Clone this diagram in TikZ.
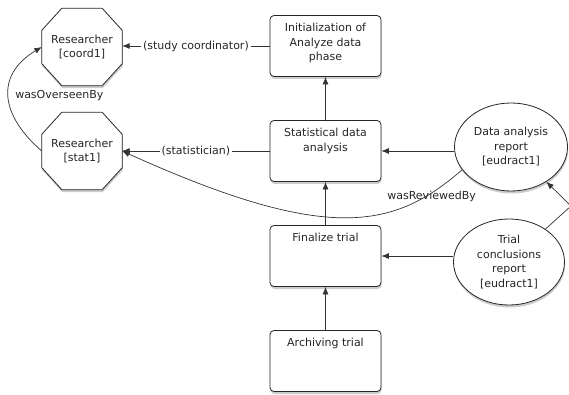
\documentclass[tikz,border=0pt]{standalone}
\usepackage{fontspec}
\setmainfont{DejaVu Sans}
\usetikzlibrary{arrows.meta,shapes.geometric,shadows,backgrounds}

\newcommand{\boxlines}[1]{\parbox[t][45pt][t]{106pt}{\centering #1}}
% octagonal outline around a rectangular node, corners cut by 20pt x 22pt
\newcommand{\octagonaround}[1]{%
  \filldraw[octo] ([xshift=20pt]#1.north west) -- ([xshift=-20pt]#1.north east)
    -- ([yshift=-22pt]#1.north east) -- ([yshift=22pt]#1.south east)
    -- ([xshift=-20pt]#1.south east) -- ([xshift=20pt]#1.south west)
    -- ([yshift=22pt]#1.south west) -- ([yshift=-22pt]#1.north west) -- cycle;}

\tikzset{
  every node/.style={font=\fontsize{11pt}{14.5pt}\selectfont, text=black!85},
  softshadow/.style={drop shadow={shadow xshift=0.6pt, shadow yshift=-2.5pt, opacity=0.4}},
  stepbox/.style={draw=black!85, line width=0.8pt, fill=white, rounded corners=4pt,
    minimum width=111pt, minimum height=61pt, inner sep=0pt, softshadow},
  agent/.style={rectangle, minimum width=80pt, minimum height=77pt, inner sep=0pt, align=center},
  octo/.style={draw=black!85, line width=0.8pt, fill=white, softshadow},
  entity/.style={ellipse, draw=black!85, line width=0.8pt, fill=white, inner sep=0pt,
    align=center, softshadow},
  conn/.style={draw=black!80, line width=0.7pt, -{Latex[length=7.5pt,width=6pt]}},
  plain/.style={draw=black!80, line width=0.7pt},
  rolelabel/.style={fill=white, inner sep=2pt}
}

\begin{document}
\begin{tikzpicture}[x=1pt,y=-1pt]
  \useasboundingbox (0,0) rectangle (569,395);
  \clip (0,0) rectangle (569,395);

  % researchers (agents)
  \node[agent] (coord1) at (82,47) {Researcher\\{[coord1]}};
  \node[agent] (stat1) at (82,151) {Researcher\\{[stat1]}};
  \begin{scope}[on background layer]
    \octagonaround{coord1}
    \octagonaround{stat1}
  \end{scope}

  % activities
  \node[stepbox] (init) at (325.5,46) {\boxlines{Initialization of\\Analyze data\\phase}};
  \node[stepbox] (stat) at (325.5,151) {\boxlines{Statistical data\\analysis}};
  \node[stepbox] (fin)  at (325.5,256) {\boxlines{Finalize trial}};
  \node[stepbox] (arch) at (325.5,361) {\boxlines{Archiving trial}};

  % reports (entities)
  \node[entity, minimum width=113pt, minimum height=88pt] (dar) at (511,147)
    {Data analysis\\report\\{[eudract1]}};
  \node[entity, minimum width=111pt, minimum height=86pt] (tcr) at (509,262)
    {Trial\\conclusions\\report\\{[eudract1]}};

  % activity chain
  \draw[conn] (stat) -- (init);
  \draw[conn] (fin) -- (stat);
  \draw[conn] (arch) -- (fin);

  % reports used by activities
  \draw[conn] (stat.east -| dar.west) -- (stat.east);
  \draw[conn] (fin.east -| tcr.west) -- (fin.east);

  % roles of the researchers
  \draw[conn] (init.west) -- node[rolelabel] {(study coordinator)} (init.west -| coord1.east);
  \draw[conn] (stat.west) -- node[rolelabel] {(statistician)} (stat.west -| stat1.east);

  % oversight and review
  \draw[conn] (stat1.west) .. controls (0,115) and (-5,75) .. node[pos=0.5, anchor=west, xshift=3pt] {wasOverseenBy} (coord1.west);
  \draw[conn] (dar.205) .. controls (395,228) and (330,245) .. node[pos=0.15, yshift=-4pt] {wasReviewedBy} (stat1.east);

  % derivation between the reports, bending past the right edge
  \coordinate (bend) at (571,206);
  \draw[plain] (tcr) -- (bend);
  \draw[conn] (bend) -- (dar);
\end{tikzpicture}
\end{document}
